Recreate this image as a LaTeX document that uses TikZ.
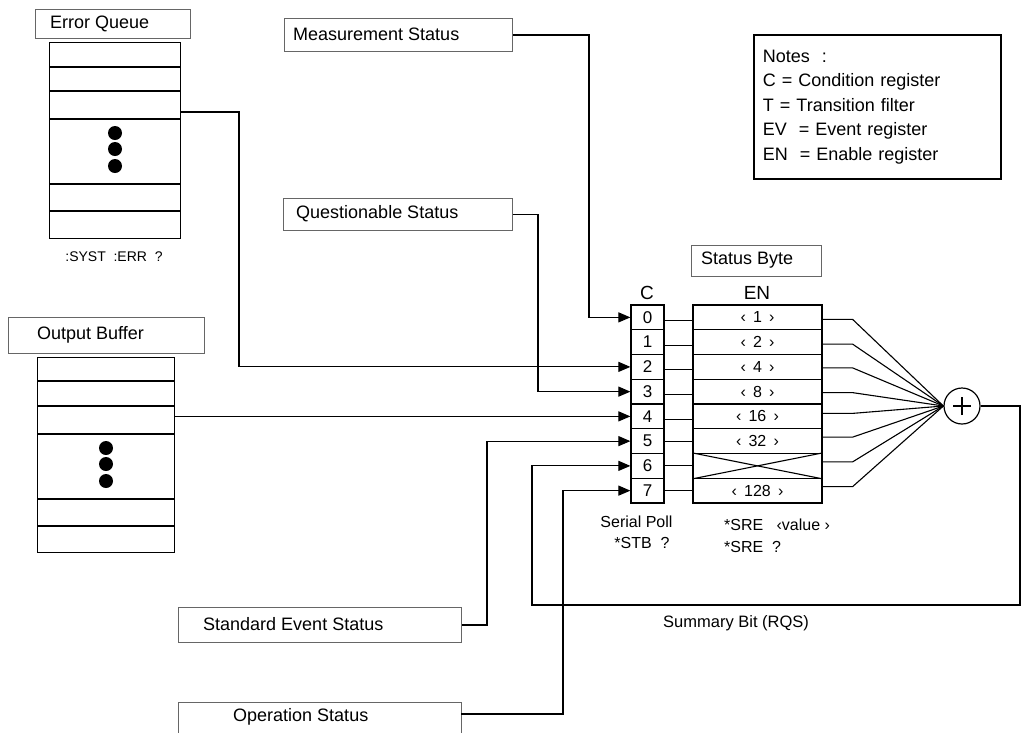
\documentclass[tikz,border=0pt]{standalone}
\usepackage{fontspec}
\setmainfont{Liberation Sans}
\usetikzlibrary{arrows.meta,calc}
\newcommand\angb[1]{‹\hspace{0.45em}#1\hspace{0.45em}›}
\begin{document}
\begin{tikzpicture}[x=1pt,y=-1pt,
  lbl/.style={draw=black!60, line width=1pt, inner sep=0pt, anchor=north west},
  txt/.style={font=\fontsize{18}{22}\selectfont, anchor=west, inner sep=0pt},
  stack/.style={draw, line width=1.3pt, inner sep=0pt, anchor=north west},
  cell/.style={draw, line width=1.2pt, inner sep=0pt, minimum height=24.75pt},
  conn/.style={line width=1.1pt},
  arr/.style={conn, -{Triangle[length=12pt,width=10pt]}},
  dot/.style={fill, circle, inner sep=0pt, minimum size=14pt},
  small/.style={font=\fontsize{16}{18}\selectfont, inner sep=0pt}
]
\useasboundingbox (0,0) rectangle (1022,732);
\clip (0,0) rectangle (1022,732);

% ---------- Error queue ----------
\node[lbl, minimum width=155pt, minimum height=29pt] (eqlbl) at (35,9) {};
\node[txt] (eqtxt) at (50,23.5) {Error Queue};
\node[stack, minimum width=131pt, minimum height=196pt] (eq) at (49,42) {};
\foreach \y in {67,91,119,184,211}
  \draw[line width=1.3pt] (eq.west |- 0,\y) -- (eq.east |- 0,\y);
\foreach \y in {133,149,166}
  \node[dot] (eqd\y) at (115,\y) {};
\node[font=\fontsize{14}{16}\selectfont, inner sep=0pt] (syst) at (114,257) {:SYST\ \ :ERR\ \ ?};

% ---------- Output buffer ----------
\node[lbl, minimum width=196pt, minimum height=36pt] (oblbl) at (8,317) {};
\node[txt] (obtxt) at (37,335) {Output Buffer};
\node[stack, minimum width=137pt, minimum height=195pt] (ob) at (37,357) {};
\foreach \y in {381,406,434,499,526}
  \draw[line width=1.3pt] (ob.west |- 0,\y) -- (ob.east |- 0,\y);
\foreach \y in {448,464,481}
  \node[dot] (obd\y) at (106,\y) {};

% ---------- status summary boxes ----------
\node[lbl, minimum width=228pt, minimum height=33pt] (mlbl) at (284,18) {};
\node[txt] (mtxt) at (293,34.5) {Measurement Status};
\node[lbl, minimum width=229pt, minimum height=32pt] (qlbl) at (283,198) {};
\node[txt] (qtxt) at (296,214) {Questionable Status};
\node[lbl, minimum width=283pt, minimum height=35pt] (selbl) at (178,607) {};
\node[txt] (setxt) at (203,624.5) {Standard Event Status};
\node[lbl, minimum width=283pt, minimum height=50pt] (oplbl) at (178,702) {};
\node[txt] (optxt) at (233,717) {Operation Status};
\node[lbl, minimum width=130pt, minimum height=31pt] (sblbl) at (691,245) {};
\node[txt] (sbtxt) at (701,260.5) {Status Byte};

% ---------- Notes ----------
\node[draw, line width=1.8pt, anchor=north west, minimum width=247pt, minimum height=144pt,
      text width=229pt, inner xsep=9pt, inner ysep=0pt, align=left,
      font=\fontsize{18}{24.5}\selectfont] (notes) at (753,34)
  {Notes\ \ :\\C = Condition register\\T = Transition filter\\EV\ \ = Event register\\EN\ \ = Enable register};

% ---------- Status byte registers ----------
\node[font=\fontsize{19}{21}\selectfont, inner sep=0pt] (Clbl) at (647,293) {C};
\node[font=\fontsize{19}{21}\selectfont, inner sep=0pt] (ENlbl) at (757,293) {EN};
\foreach \i in {0,...,7}
  \node[cell, minimum width=33pt, font=\fontsize{17}{19}\selectfont] (C\i) at (647.5,{305+24.75*(\i+0.5)}) {\i};
\foreach \i/\t in {0/\angb{1},1/\angb{2},2/\angb{4},3/\angb{8},4/\angb{16},5/\angb{32},6/{},7/\angb{128}}
  \node[cell, minimum width=129pt, font=\fontsize{16}{18}\selectfont] (E\i) at (757.5,{305+24.75*(\i+0.5)}) {\t};
\draw[line width=1.1pt] (E6.north west) -- (E6.south east);
\draw[line width=1.1pt] (E6.south west) -- (E6.north east);

\foreach \i/\d in {0/3,1/3,2/3,3/3,4/3,5/0,6/0,7/0}
  \draw[conn] ([yshift=-\d pt]C\i.east) -- ([yshift=-\d pt]E\i.west);

% ---------- summing node ----------
\node[draw, circle, line width=1.2pt, minimum size=36pt, inner sep=0pt] (sum) at (962,406) {};
\draw[line width=1.2pt] ([xshift=-9pt]sum.center) -- ([xshift=9pt]sum.center);
\draw[line width=1.2pt] ([yshift=-9pt]sum.center) -- ([yshift=9pt]sum.center);
\foreach \i/\d in {0/-2,1/-2,2/-1,3/-1,4/3,5/4,6/4,7/4}
  \draw[conn] ([yshift=\d pt]E\i.east) -- ++(30,0) -- (sum.west);

% ---------- connectors ----------
\coordinate (mb) at (589,0);
\coordinate (qb) at (538,0);
\coordinate (eb) at (239,0);
\coordinate (sb) at (487,0);
\coordinate (opb) at (563,0);
\coordinate (eqport) at (180,112);
\coordinate (opport) at (461,714);
\coordinate (fb1) at (1020,605);
\coordinate (fb2) at (532,605);

\draw[arr] (mlbl.east) -| (mb |- C0.west) -- (C0.west);
\draw[arr] (qlbl.east) -| (qb |- C3.west) -- (C3.west);
\draw[arr] (eqport) -| (eb |- C2.west) -- (C2.west);
\draw[arr] (ob.east |- C4.west) -- (C4.west);
\draw[arr] (selbl.east) -| (sb |- C5.west) -- (C5.west);
\draw[arr] (opport) -| (opb |- C7.west) -- (C7.west);
\draw[arr] (sum.east) -| (fb1) -- (fb2) |- (C6.west);

% ---------- captions ----------
\node[small] (sp1) at (636.5,522) {Serial Poll};
\node[small] (sp2) at (642,543) {*STB\ \ ?};
\node[small, anchor=west] (sre1) at (724,525) {*SRE\ \ \ ‹value\ ›};
\node[small, anchor=west] (sre2) at (724,547) {*SRE\ \ ?};
\node[font=\fontsize{16.5}{18}\selectfont, inner sep=0pt, anchor=west] (rqs) at (663,623) {Summary Bit (RQS)};
\end{tikzpicture}
\end{document}
